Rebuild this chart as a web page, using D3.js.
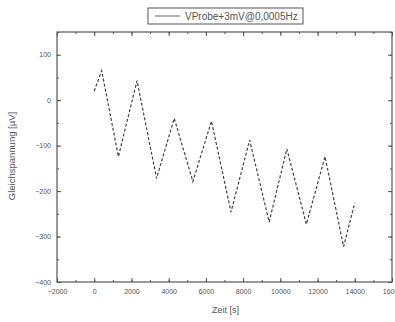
<!DOCTYPE html>
<html><head><meta charset="utf-8">
<script src="https://cdn.jsdelivr.net/npm/d3@7"></script>
<style>body{margin:0;background:#fff}svg{display:block;font-family:"Liberation Sans",Arial,sans-serif}</style>
</head><body>
<svg id="c" width="395" height="322"></svg>
<script>
const timeS = [0, 400, 1300, 2300, 3350, 4300, 5300, 6300, 7350, 8350, 9400, 10350, 11400, 12400, 13400, 14000];
const voltageUV = [20, 65, -124, 43, -172, -40, -179, -46, -246, -88, -268, -107, -273, -124, -322, -226];
const xTicks = [-2000, 0, 2000, 4000, 6000, 8000, 10000, 12000, 14000, 16000];
const yTicks = [-400, -300, -200, -100, 0, 100];
const seriesName = "VProbe+3mV@0,0005Hz";
const xTitle = "Zeit [s]";
const yTitle = "Gleichspannung [µV]";

const svg = d3.select("#c");
const L = 57, R = 392, T = 32, B = 282;
const x = d3.scaleLinear().domain([-2000, 16000]).range([L, R]);
const y = d3.scaleLinear().domain([-400, 150]).range([B, T]);
const xMinor = d3.range(-2000, 16001, 1000);
const yMinor = d3.range(-400, 151, 50);
const axisColor = "#555";
const textColor = "#555";

svg.append("rect").attr("x", L).attr("y", T).attr("width", R - L).attr("height", B - T)
  .attr("fill", "none").attr("stroke", axisColor).attr("stroke-width", 1.2);

function ticks(axis, vals, len, pos) {
  const g = svg.append("g").attr("transform", pos).call(axis.tickValues(vals).tickSize(len).tickFormat(""));
  g.select(".domain").remove();
  g.selectAll("line").attr("stroke", axisColor).attr("stroke-width", 1);
  return g;
}
ticks(d3.axisBottom(x), xMinor, -2, `translate(0,${B})`);
ticks(d3.axisBottom(x), xTicks, -4, `translate(0,${B})`);
ticks(d3.axisTop(x), xMinor, -2, `translate(0,${T})`);
ticks(d3.axisTop(x), xTicks, -4, `translate(0,${T})`);
ticks(d3.axisLeft(y), yMinor, -2, `translate(${L},0)`);
ticks(d3.axisLeft(y), yTicks, -4, `translate(${L},0)`);
ticks(d3.axisRight(y), yMinor, -2, `translate(${R},0)`);
ticks(d3.axisRight(y), yTicks, -4, `translate(${R},0)`);

const xl = svg.append("g").attr("transform", `translate(0,${B})`)
  .call(d3.axisBottom(x).tickValues(xTicks).tickSize(0).tickPadding(7).tickFormat(d3.format("d")));
xl.select(".domain").remove();
xl.selectAll("text").attr("font-size", 7).attr("fill", textColor).attr("font-family", "Liberation Sans, Arial, sans-serif");
const yl = svg.append("g").attr("transform", `translate(${L},0)`)
  .call(d3.axisLeft(y).tickValues(yTicks).tickSize(0).tickPadding(6).tickFormat(d3.format("d")));
yl.select(".domain").remove();
yl.selectAll("text").attr("font-size", 7).attr("fill", textColor).attr("font-family", "Liberation Sans, Arial, sans-serif");

svg.append("text").attr("x", (L + R) / 2 + 1).attr("y", 313).attr("text-anchor", "middle")
  .attr("font-size", 9).attr("fill", textColor).text(xTitle);
svg.append("text").attr("transform", `translate(15,${(T + B) / 2 - 1}) rotate(-90)`).attr("text-anchor", "middle")
  .attr("font-size", 9.5).attr("fill", textColor).text(yTitle);

const line = d3.line().x((d, i) => x(timeS[i])).y((d, i) => y(voltageUV[i]));
svg.append("path").datum(voltageUV).attr("d", line).attr("fill", "none")
  .attr("stroke", "#444").attr("stroke-width", 1.2).attr("stroke-dasharray", "3,2");

svg.append("rect").attr("x", 148).attr("y", 8).attr("width", 155).attr("height", 16)
  .attr("fill", "#fff").attr("stroke", "#555").attr("stroke-width", 1);
svg.append("line").attr("x1", 155).attr("x2", 180).attr("y1", 16).attr("y2", 16)
  .attr("stroke", "#666").attr("stroke-width", 1);
svg.append("text").attr("x", 185).attr("y", 19.5).attr("font-size", 10).attr("fill", textColor).text(seriesName);
</script>
</body></html>
